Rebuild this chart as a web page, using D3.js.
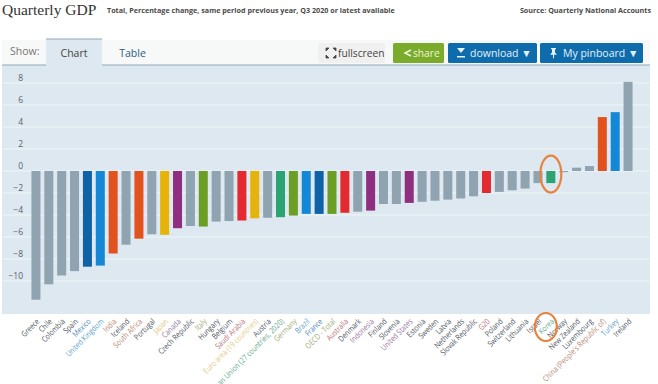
<!DOCTYPE html>
<html>
<head>
<meta charset="utf-8">
<title>Quarterly GDP</title>
<script src="https://cdn.jsdelivr.net/npm/d3@7"></script>
<style>
    html, body { margin: 0; padding: 0; background: #fff; overflow: hidden; }
    svg { display: block; }
    text { font-family: "Open Sans", "Noto Sans", sans-serif; }
</style>
</head>
<body>
<div id="chart"></div>
<script>
const countries = ['Greece', 'Chile', 'Colombia', 'Spain', 'Mexico', 'United Kingdom', 'India', 'Iceland',
    'South Africa', 'Portugal', 'Japan', 'Canada', 'Czech Republic', 'Italy', 'Hungary', 'Belgium',
    'Saudi Arabia', 'Euro area (19 countries)', 'Austria', 'European Union (27 countries, 2020)', 'Germany',
    'Brazil', 'France', 'OECD - Total', 'Australia', 'Denmark', 'Indonesia', 'Finland', 'Slovenia',
    'United States', 'Estonia', 'Sweden', 'Latvia', 'Netherlands', 'Slovak Republic', 'G20', 'Poland',
    'Switzerland', 'Lithuania', 'Israel', 'Korea', 'Norway', 'New Zealand', 'Luxembourg',
    "China (People's Republic of)", 'Turkey', 'Ireland'];

const gdpChange = [-11.7, -10.3, -9.5, -9.1, -8.7, -8.6, -7.5, -6.7, -6.15, -5.75, -5.8, -5.2, -5.0, -5.05,
    -4.6, -4.55, -4.5, -4.3, -4.25, -4.2, -4.05, -3.9, -3.9, -3.9, -3.8, -3.7, -3.6, -3.0, -3.0, -2.9, -2.8,
    -2.7, -2.6, -2.5, -2.3, -2.0, -1.9, -1.75, -1.6, -1.1, -1.1, -0.1, 0.3, 0.45, 4.9, 5.35, 8.1];

const highlightGroups = {
    navy: ['Mexico', 'France'],
    blue: ['United Kingdom', 'Brazil', 'Turkey'],
    orange: ['India', 'South Africa', "China (People's Republic of)"],
    yellow: ['Japan', 'Euro area (19 countries)'],
    purple: ['Canada', 'Indonesia', 'United States'],
    olive: ['Italy', 'Germany', 'OECD - Total'],
    red: ['Saudi Arabia', 'Australia', 'G20'],
    teal: ['European Union (27 countries, 2020)', 'Korea']
};

const yTicks = [8, 6, 4, 2, 0, -2, -4, -6, -8, -10];
const tabLabels = ['Chart', 'Table'];
const circledCountry = 'Korea';

const width = 658;
const height = 384;

const groupOf = (name) => Object.keys(highlightGroups).find(g => highlightGroups[g].includes(name)) || 'other';

const barColor = d3.scaleOrdinal()
    .domain(['other', 'navy', 'blue', 'orange', 'yellow', 'purple', 'olive', 'red', 'teal'])
    .range(['#90a3b1', '#0f62a6', '#1488d6', '#e2521e', '#e6b30a', '#8e2f80', '#6c9e26', '#e32a30', '#2ba372']);

const labelColor = d3.scaleOrdinal()
    .domain(barColor.domain())
    .range(['#4f585f', '#4d86b8', '#5f9fca', '#b98873', '#dfca85', '#9a7a9f', '#9fae78', '#bb6f7a', '#62a98c']);

const xScale = d3.scaleBand()
    .domain(countries)
    .range([29.5, 634.5])
    .paddingInner(0.3)
    .paddingOuter(0.15);

const yScale = d3.scaleLinear()
    .domain([-10, 8])
    .range([281, 83]);

const svg = d3.select('#chart').append('svg')
    .attr('width', width)
    .attr('height', height);

// header
svg.append('text')
    .attr('x', 2).attr('y', 15)
    .attr('font-size', 15.5)
    .attr('fill', '#333')
    .style('font-family', '"Liberation Serif", serif')
    .text('Quarterly GDP');

svg.append('text')
    .attr('x', 107).attr('y', 13)
    .attr('font-size', 7.2)
    .attr('font-weight', 700)
    .attr('fill', '#4a4a4a')
    .text('Total, Percentage change, same period previous year, Q3 2020 or latest available');

svg.append('text')
    .attr('x', 651).attr('y', 13)
    .attr('text-anchor', 'end')
    .attr('font-size', 7.2)
    .attr('font-weight', 700)
    .attr('fill', '#4a4a4a')
    .text('Source: Quarterly National Accounts');

// tab strip
svg.append('rect')
    .attr('x', 2).attr('y', 40).attr('width', 648).attr('height', 25)
    .attr('fill', '#f7f8f8');

svg.append('rect')
    .attr('x', 2).attr('y', 65).attr('width', 648).attr('height', 249)
    .attr('fill', '#dde8f0');

svg.append('line')
    .attr('x1', 2).attr('x2', 650).attr('y1', 65).attr('y2', 65)
    .attr('stroke', '#8fa8b8');

svg.append('rect')
    .attr('x', 46).attr('y', 39).attr('width', 56).attr('height', 27)
    .attr('fill', '#dde8f0');

svg.append('line')
    .attr('x1', 46).attr('x2', 102).attr('y1', 39).attr('y2', 39)
    .attr('stroke', '#8fa8b8');

svg.append('text')
    .attr('x', 10).attr('y', 55)
    .attr('font-size', 10.5)
    .attr('fill', '#777')
    .text('Show:');

svg.selectAll('.tab')
    .data(tabLabels)
    .join('text')
    .attr('class', 'tab')
    .attr('x', (d, i) => 74 + i * 58.5)
    .attr('y', 57)
    .attr('text-anchor', 'middle')
    .attr('font-size', 10.5)
    .attr('fill', (d, i) => i === 0 ? '#444' : '#2c6178')
    .text(d => d);

// buttons
const buttonList = [
    { label: 'fullscreen', x: 318, w: 67, fill: '#f0f0f0', color: '#444', tx: 338, size: 10.2 },
    { label: 'share', x: 393, w: 51, fill: '#7bab2a', color: '#eef5dc', tx: 413, size: 10.2 },
    { label: 'download ▼', x: 448, w: 89, fill: '#0f6cac', color: '#e5f0f8', tx: 470, size: 10.5 },
    { label: 'My pinboard ▼', x: 540, w: 103, fill: '#0f6cac', color: '#e5f0f8', tx: 563, size: 10.5 }
];

const buttons = svg.selectAll('.button')
    .data(buttonList)
    .join('g')
    .attr('class', 'button');

buttons.append('rect')
    .attr('x', d => d.x).attr('y', 43)
    .attr('width', d => d.w).attr('height', 20)
    .attr('rx', 1.5)
    .attr('fill', d => d.fill);

buttons.append('text')
    .attr('x', d => d.tx).attr('y', 57)
    .attr('font-size', d => d.size)
    .attr('fill', d => d.color)
    .text(d => d.label);

// fullscreen icon, share icon, download icon, pin icon
svg.append('path')
    .attr('d', 'M326 48h3l-3 3zM336 48h-3l3 3zM326 58h3l-3-3zM336 58h-3l3-3z')
    .attr('fill', '#444').attr('stroke', '#444').attr('stroke-width', 0.8);
svg.append('path')
    .attr('d', 'M411 50l-6 3 6 3')
    .attr('fill', 'none').attr('stroke', '#eef5dc').attr('stroke-width', 1.5);
svg.append('path')
    .attr('d', 'M457 48h8l-4 5zM457 56h8v1.5h-8z')
    .attr('fill', '#e5f0f8');
svg.append('path')
    .attr('d', 'M551 48h5v1l-1 .5v3l1.5 1.5v.8h-2.500v3l-.5 1-.5-1v-3h-2.500v-.8l1.500-1.500v-3l-1-.5z')
    .attr('fill', '#e5f0f8');

// gridlines and y axis
svg.append('g')
    .selectAll('line')
    .data(yTicks)
    .join('line')
    .attr('x1', 2).attr('x2', 650)
    .attr('y1', d => yScale(d)).attr('y2', d => yScale(d))
    .attr('stroke', '#f0f5f8')
    .attr('stroke-width', 1.2);

const yAxis = svg.append('g')
    .attr('transform', 'translate(23,-5)')
    .call(d3.axisLeft(yScale).tickValues(yTicks).tickSize(0).tickPadding(0).tickFormat(d3.format('d')));

yAxis.select('.domain').remove();
yAxis.selectAll('text')
    .attr('font-size', 8.5)
    .attr('fill', '#5a6268')
    .style('font-family', '"Open Sans", sans-serif');

// bars
svg.append('g')
    .selectAll('rect')
    .data(countries)
    .join('rect')
    .attr('x', d => xScale(d))
    .attr('width', xScale.bandwidth())
    .attr('y', (d, i) => yScale(Math.max(0, gdpChange[i])))
    .attr('height', (d, i) => Math.abs(yScale(gdpChange[i]) - yScale(0)))
    .attr('fill', d => barColor(groupOf(d)));

// rotated country labels, squeezed sideways because the original face is condensed
svg.append('g')
    .selectAll('text')
    .data(countries)
    .join('text')
    .attr('transform', d => `translate(${xScale(d) + xScale.bandwidth() / 2 + 4},322) rotate(-45) scale(0.82,1)`)
    .attr('text-anchor', 'end')
    .attr('font-size', 8.1)
    .attr('fill', d => labelColor(groupOf(d)))
    .text(d => d);

// orange circles around Korea
const circledIndex = countries.indexOf(circledCountry);
const circledX = xScale(circledCountry) + xScale.bandwidth() / 2;

svg.append('ellipse')
    .attr('cx', circledX)
    .attr('cy', yScale(gdpChange[circledIndex] / 4))
    .attr('rx', 10.5).attr('ry', 18.5)
    .attr('fill', 'none')
    .attr('stroke', '#e8833f')
    .attr('stroke-width', 2.2);

svg.append('ellipse')
    .attr('cx', circledX - 5)
    .attr('cy', 327)
    .attr('rx', 11).attr('ry', 14)
    .attr('fill', 'none')
    .attr('stroke', '#e8833f')
    .attr('stroke-width', 2.2);
</script>
</body>
</html>
